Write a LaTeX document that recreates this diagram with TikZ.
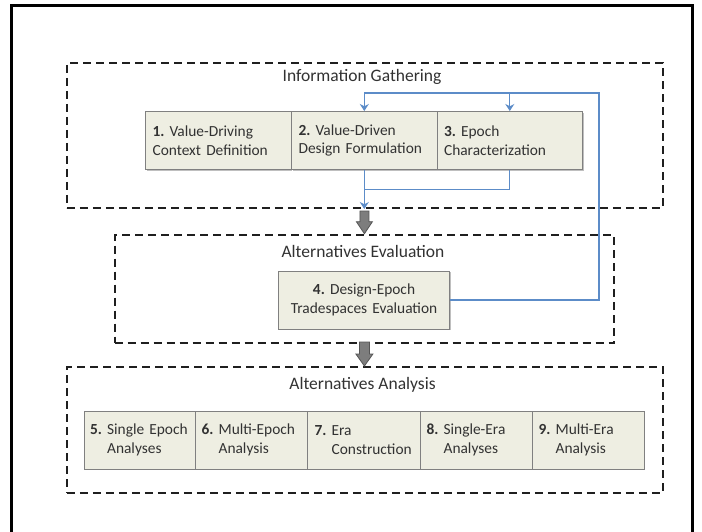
\documentclass[tikz,border=0pt]{standalone}
\usepackage{fontspec}
\setmainfont{Carlito}
\usetikzlibrary{arrows.meta,shadows,calc}
\definecolor{boxfill}{RGB}{238,238,226}
\definecolor{boxline}{RGB}{128,128,128}
\definecolor{linkblue}{RGB}{92,140,200}
\definecolor{txt}{RGB}{50,50,50}
\definecolor{bigarrow}{RGB}{125,125,125}
\definecolor{bigarrowline}{RGB}{85,85,85}
\frenchspacing
\begin{document}
\begin{tikzpicture}[x=1pt,y=-1pt,
  dashbox/.style={draw=black!88, line width=2.3pt, dash pattern=on 8pt off 5pt, inner sep=0pt, anchor=north west},
  title/.style={text=txt, font=\fontsize{17.5}{20}\selectfont, inner sep=0pt},
  stepbox/.style={draw=boxline, line width=1.1pt, fill=boxfill, anchor=north west, inner ysep=0pt, inner xsep=7pt,
    minimum height=58pt, text=txt, font=\fontsize{15.4}{18.7}\selectfont\frenchspacing, align=left,
    drop shadow={shadow xshift=1.3pt,shadow yshift=-1.3pt,opacity=0.25,fill=black}},
  link/.style={draw=linkblue, line width=1.3pt},
  linkarrow/.style={link, -{Stealth[length=7pt,width=9pt]}},
  fatarrow/.style={fill=bigarrow, draw=bigarrowline, line width=0.8pt, line join=miter},
]
\useasboundingbox (0,0) rectangle (702,531);
\fill[white] (0,0) rectangle (702,531);
\draw[line width=3pt, black] (11,545) -- (11,5) -- (692,5) -- (692,545);

% groups
\node[dashbox, minimum width=596pt, minimum height=145pt] (ig) at (65.7,61.7) {};
\node[dashbox, minimum width=499.5pt, minimum height=108.3pt] (ae) at (113.5,233.7) {};
\node[dashbox, minimum width=596pt, minimum height=125.7pt] (aa) at (65.7,366) {};

\node[title] (tig) at (362,77) {Information Gathering};
\node[title] (tae) at (363,251) {Alternatives Evaluation};
\node[title] (taa) at (362.5,385) {Alternatives Analysis};

% steps 1-3
\node[stepbox, text width=131.5pt] (s1) at (145,111) {\mbox{\textbf{1.} Value-Driving}\\\mbox{Context Definition}};
\node[stepbox, text width=131.5pt] (s2) at (291,111) {\mbox{\textbf{2.} Value-Driven}\\\mbox{Design Formulation}};
\node[stepbox, text width=131.5pt] (s3) at (436.5,111) {\mbox{\textbf{3.} Epoch}\\\mbox{Characterization}};

% step 4
\node[stepbox, text width=157pt, align=center] (s4) at (278,270.5) {\textbf{4.} Design-Epoch\\Tradespaces Evaluation};

% steps 5-9
\node[stepbox, inner xsep=6pt, text width=99.5pt] (s5) at (83.5,410.5) {\mbox{\textbf{5.} Single Epoch}\\\mbox{\hphantom{\textbf{5.} }Analyses}};
\node[stepbox, inner xsep=6pt, text width=100pt] (s6) at (195,410.5) {\mbox{\textbf{6.} Multi-Epoch}\\\mbox{\hphantom{\textbf{6.} }Analysis}};
\node[stepbox, inner xsep=7pt, text width=99pt] (s7) at (307,410.5) {\mbox{\textbf{7.} Era}\\\mbox{\hphantom{\textbf{7.} }Construction}};
\node[stepbox, inner xsep=6pt, text width=100pt] (s8) at (420,410.5) {\mbox{\textbf{8.} Single-Era}\\\mbox{\hphantom{\textbf{8.} }Analyses}};
\node[stepbox, inner xsep=6pt, text width=99.5pt] (s9) at (532,410.5) {\mbox{\textbf{9.} Multi-Era}\\\mbox{\hphantom{\textbf{9.} }Analysis}};

% big gray arrows
\draw[fatarrow] ($(ae.north |- ig.south)+(-4.5,2)$) -- ($(ae.north)+(-4.5,-12)$) -- ($(ae.north)+(-8,-12)$)
  -- (ae.north) -- ($(ae.north)+(8,-12)$) -- ($(ae.north)+(4.5,-12)$) -- ($(ae.north |- ig.south)+(4.5,2)$) -- cycle;
\draw[fatarrow] ($(aa.north -| ae.north)+(-5,-24)$) -- ($(aa.north -| ae.north)+(-5,-12)$) -- ($(aa.north -| ae.north)+(-8.5,-12)$)
  -- (aa.north -| ae.north) -- ($(aa.north -| ae.north)+(8.5,-12)$) -- ($(aa.north -| ae.north)+(5,-12)$) -- ($(aa.north -| ae.north)+(5,-24)$) -- cycle;

% blue feedback links
\coordinate (loopR) at (599,93);
\draw[linkarrow] (s4.east) -| (loopR) -| (s2.north);
\draw[linkarrow] (s3.north |- loopR) -- (s3.north);
\coordinate (merge) at ($(s2.south)+(0,19.6)$);
\draw[link] (s3.south) |- (merge);
\draw[linkarrow] (s2.south) -- (s2.south |- ig.south);
\end{tikzpicture}
\end{document}
